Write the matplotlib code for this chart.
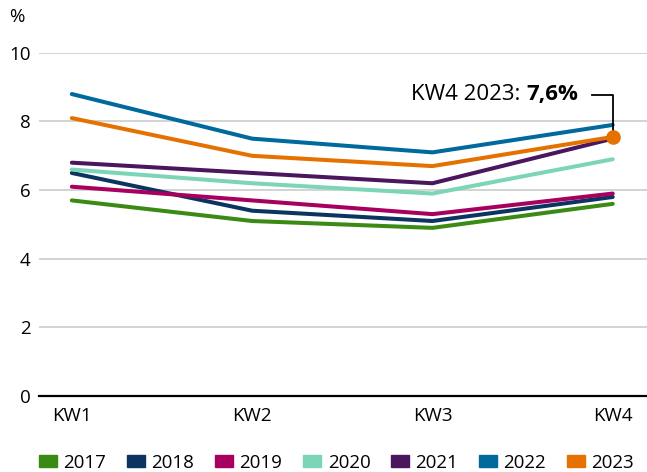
import matplotlib.pyplot as plt
from matplotlib.patches import Patch

plt.rcParams['font.family'] = ['Open Sans', 'DejaVu Sans']

weeks = ['KW1', 'KW2', 'KW3', 'KW4']
years = ['2017', '2018', '2019', '2020', '2021', '2022', '2023']
values = {
    '2017': [5.7, 5.1, 4.9, 5.6],
    '2018': [6.5, 5.4, 5.1, 5.8],
    '2019': [6.1, 5.7, 5.3, 5.9],
    '2020': [6.6, 6.2, 5.9, 6.9],
    '2021': [6.8, 6.5, 6.2, 7.5],
    '2022': [8.8, 7.5, 7.1, 7.9],
    '2023': [8.1, 7.0, 6.7, 7.55],
}
colors = {
    '2017': '#3a8a14',
    '2018': '#0b3560',
    '2019': '#a8005f',
    '2020': '#7dd5b8',
    '2021': '#4a165e',
    '2022': '#00699d',
    '2023': '#e57200',
}

fig = plt.figure(figsize=(6.47, 4.72), dpi=100)
ax = fig.add_axes([0.060, 0.161, 0.940, 0.727])

x = range(len(weeks))
for yr in years:
    ax.plot(x, values[yr], color=colors[yr], lw=2.9, solid_capstyle='round',
            zorder=3)

# highlighted point with callout
ax.plot(3, values['2023'][3], 'o', color=colors['2023'], markersize=9.5,
        zorder=5)
ax.plot([2.884, 3, 3], [8.78, 8.78, values['2023'][3]], color='black',
        lw=1.3, zorder=4)
t1 = ax.text(2.806, 8.78, '7,6%', ha='right', va='center',
             fontsize=16, fontweight='bold')
ax.annotate('KW4 2023: ', xy=(0, 0), xycoords=t1, ha='right', va='bottom',
            fontsize=16)

ax.set_xlim(-0.183, 3.19)
ax.set_ylim(0, 10)
ax.set_yticks([0, 2, 4, 6, 8, 10])
ax.set_xticks(list(x))
ax.set_xticklabels(weeks)
ax.grid(axis='y', color='#cccccc', lw=1.2)
ax.set_axisbelow(True)
for s in ['top', 'right', 'left']:
    ax.spines[s].set_visible(False)
ax.spines['bottom'].set_color('black')
ax.spines['bottom'].set_linewidth(1.6)
ax.tick_params(length=0, labelsize=13.5, pad=6)
ax.tick_params(axis='x', pad=8)

fig.text(0.014, 0.963, '%', fontsize=13.5, va='center')

handles = [Patch(color=colors[yr], label=yr) for yr in years]
fig.legend(handles=handles, loc='lower center', ncol=7, frameon=False,
           fontsize=13.5, handlelength=0.96, handleheight=0.53,
           handletextpad=0.35, columnspacing=1.1,
           bbox_to_anchor=(0.52, -0.035))

fig.savefig('out.png', dpi=100)
